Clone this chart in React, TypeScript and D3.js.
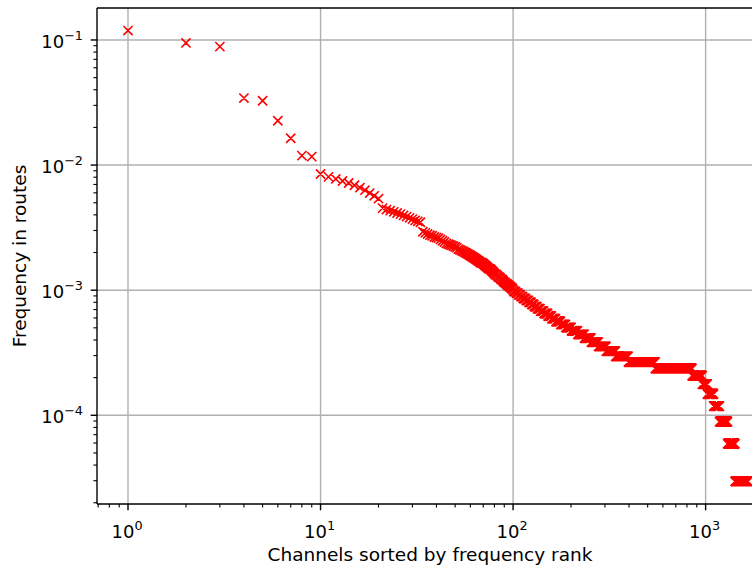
import React from "react";
import * as d3 from "d3";

// Total number of routes (frequency = count / totalRoutes)
const totalRoutes = 33800;

// Route counts of the 100 most frequent channels (ranks 1..100)
const topCounts = [
  4020, 3200, 2990, 1160, 1105, 764, 554, 402, 395, 287,
  272, 262, 252, 243, 233, 223, 213, 202, 192, 182,
  153, 149, 146, 143, 140, 137, 134, 131, 128, 125,
  122, 120, 118, 99, 97, 95, 93, 92, 90, 89,
  88, 86, 84, 82, 80, 79, 78, 77, 76, 75,
  74, 72, 71, 70, 69, 68, 67, 66, 65, 64,
  63, 62, 61, 60, 59, 58, 57, 56, 56, 55,
  54, 53, 52, 51, 50, 50, 49, 48, 47, 46,
  45, 45, 44, 43, 43, 42, 41, 41, 40, 39,
  39, 38, 38, 37, 37, 36, 36, 35, 35, 34,
];

// Remaining channels: route-count level and how many channels share that level
const tailCountLevels = [
  33, 32, 31, 30, 29, 28, 27, 26, 25, 24,
  23, 22, 21, 20, 19, 18, 17,
  16,
  15, 14, 13, 12,
  11, 10, 9, 8, 7, 6, 5, 4, 3, 2, 1,
];
const tailChannels = [
  3, 3, 3, 3, 4, 4, 4, 4, 5, 5,
  6, 7, 7, 8, 10, 11, 13,
  16,
  18, 20, 23, 27,
  36, 56, 151, 303, 110, 60, 80, 80, 120, 120, 240,
];

const xTickExps = [0, 1, 2, 3];
const yTickExps = [-1, -2, -3, -4];

const xLabel = "Channels sorted by frequency rank";
const yLabel = "Frequency in routes";

type Pt = { rank: number; freq: number };

function buildPoints(): Pt[] {
  const pts: Pt[] = [];
  let rank = 1;
  topCounts.forEach((c) => {
    pts.push({ rank, freq: c / totalRoutes });
    rank++;
  });
  tailCountLevels.forEach((c, i) => {
    for (let k = 0; k < tailChannels[i]; k++) {
      pts.push({ rank, freq: c / totalRoutes });
      rank++;
    }
  });
  return pts;
}

export default function App() {
  const W = 752;
  const H = 570;
  const left = 97;
  const right = 779;
  const top = 8;
  const bottom = 504;

  const pts = buildPoints();
  const lxMin = Math.log10(d3.min(pts, (d) => d.rank)!);
  const lxMax = Math.log10(d3.max(pts, (d) => d.rank)!);
  const lyMin = Math.log10(d3.min(pts, (d) => d.freq)!);
  const lyMax = Math.log10(d3.max(pts, (d) => d.freq)!);
  const mx = (lxMax - lxMin) * 0.05;
  const my = (lyMax - lyMin) * 0.05;

  const x = d3
    .scaleLog()
    .domain([Math.pow(10, lxMin - mx), Math.pow(10, lxMax + mx)])
    .range([left, right]);
  const y = d3
    .scaleLog()
    .domain([Math.pow(10, lyMin - my), Math.pow(10, lyMax + my)])
    .range([bottom, top]);

  const [x0, x1] = x.domain();
  const [y0, y1] = y.domain();

  const xMinor: number[] = [];
  for (let e = -1; e <= 4; e++)
    for (let m = 2; m <= 9; m++) {
      const v = m * Math.pow(10, e);
      if (v >= x0 && v <= x1) xMinor.push(v);
    }
  const yMinor: number[] = [];
  for (let e = -6; e <= 0; e++)
    for (let m = 2; m <= 9; m++) {
      const v = m * Math.pow(10, e);
      if (v >= y0 && v <= y1) yMinor.push(v);
    }

  const h = 4.6;
  const markerPath = pts
    .map((p) => {
      const cx = x(p.rank);
      const cy = y(p.freq);
      return `M${cx - h},${cy - h}L${cx + h},${cy + h}M${cx - h},${cy + h}L${cx + h},${cy - h}`;
    })
    .join("");

  const font = "'DejaVu Sans', sans-serif";
  const fs = 18;
  const lfs = 18.5;
  const sup = 12.8;
  const gridColor = "#b0b0b0";

  return (
    <svg
      width={W}
      height={H}
      style={{ position: "absolute", left: 0, top: 0, background: "#fff" }}
      fontFamily={font}
    >
      <rect x={0} y={0} width={W} height={H} fill="#fff" />
      <defs>
        <clipPath id="plotclip">
          <rect x={left} y={top} width={right - left} height={bottom - top} />
        </clipPath>
      </defs>
      {/* grid */}
      <g stroke={gridColor} strokeWidth={1.4}>
        {xTickExps.map((e) => (
          <line key={"gx" + e} x1={x(Math.pow(10, e))} x2={x(Math.pow(10, e))} y1={top} y2={bottom} />
        ))}
        {yTickExps.map((e) => (
          <line key={"gy" + e} x1={left} x2={right} y1={y(Math.pow(10, e))} y2={y(Math.pow(10, e))} />
        ))}
      </g>
      {/* markers */}
      <path d={markerPath} stroke="#ff0000" strokeWidth={1.6} fill="none" clipPath="url(#plotclip)" />
      {/* spines */}
      <g stroke="#000" strokeWidth={1.4} fill="none">
        <line x1={left} x2={left} y1={top} y2={bottom} />
        <line x1={left} x2={right} y1={top} y2={top} />
        <line x1={left} x2={right} y1={bottom} y2={bottom} />
        <line x1={right} x2={right} y1={top} y2={bottom} />
      </g>
      {/* ticks */}
      <g stroke="#000">
        {xTickExps.map((e) => (
          <line key={"tx" + e} x1={x(Math.pow(10, e))} x2={x(Math.pow(10, e))} y1={bottom} y2={bottom + 6.3} strokeWidth={1.4} />
        ))}
        {xMinor.map((v, i) => (
          <line key={"mx" + i} x1={x(v)} x2={x(v)} y1={bottom} y2={bottom + 3.6} strokeWidth={1.1} />
        ))}
        {yTickExps.map((e) => (
          <line key={"ty" + e} x1={left - 6.3} x2={left} y1={y(Math.pow(10, e))} y2={y(Math.pow(10, e))} strokeWidth={1.4} />
        ))}
        {yMinor.map((v, i) => (
          <line key={"my" + i} x1={left - 3.6} x2={left} y1={y(v)} y2={y(v)} strokeWidth={1.1} />
        ))}
      </g>
      {/* x tick labels */}
      {xTickExps.map((e) => (
        <text key={"lx" + e} x={x(Math.pow(10, e)) - 1} y={538} fontSize={fs} textAnchor="middle" fill="#000">
          10
          <tspan fontSize={sup} dy={-8}>{String(e).replace("-", "\u2212")}</tspan>
        </text>
      ))}
      {/* y tick labels */}
      {yTickExps.map((e) => (
        <text key={"ly" + e} x={83} y={y(Math.pow(10, e)) + 8} fontSize={fs} textAnchor="end" fill="#000">
          10
          <tspan fontSize={sup} dy={-8}>{"\u2212" + String(-e)}</tspan>
        </text>
      ))}
      {/* axis labels */}
      <text x={430} y={561} fontSize={lfs} textAnchor="middle" fill="#000">
        {xLabel}
      </text>
      <text
        transform={`translate(26,${(top + bottom) / 2}) rotate(-90)`}
        fontSize={lfs}
        textAnchor="middle"
        fill="#000"
      >
        {yLabel}
      </text>
    </svg>
  );
}
